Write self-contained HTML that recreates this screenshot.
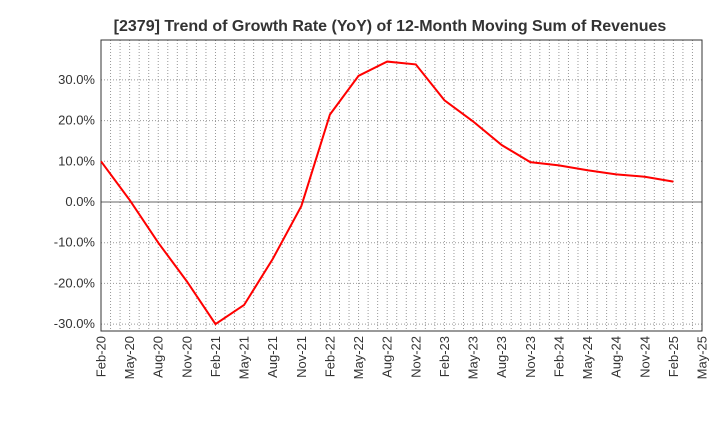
<!DOCTYPE html>
<html><head><meta charset="utf-8"><style>
body{margin:0;background:#fff;}
svg{display:block;font-family:"Liberation Sans",sans-serif;}
</style></head><body>
<svg id="c" width="720" height="440">
<text x="390" y="31" text-anchor="middle" font-size="16" font-weight="bold" fill="#333">[2379]  Trend of Growth Rate (YoY) of 12-Month Moving Sum of Revenues</text>
<g id="grid"></g><g id="axes"></g><g id="series"></g>
</svg>
<script>
const categories=["Feb-20","May-20","Aug-20","Nov-20","Feb-21","May-21","Aug-21","Nov-21","Feb-22","May-22","Aug-22","Nov-22","Feb-23","May-23","Aug-23","Nov-23","Feb-24","May-24","Aug-24","Nov-24","Feb-25","May-25"];
const values=[10,0.5,-10,-19.5,-30,-25.3,-14,-1,21.5,31,34.5,33.8,25,19.8,14,9.8,9,7.8,6.8,6.2,5];
const yTicks=[30,20,10,0,-10,-20,-30];
const L=101,R=702,T=40,B=331;
const NS="http://www.w3.org/2000/svg";
function x(i){return L+(R-L)*i/21;}
function y(v){return 202-v*4.07;}
function mk(p,t,a){const e=document.createElementNS(NS,t);for(const k in a)e.setAttribute(k,a[k]);p.appendChild(e);return e;}
const g=document.getElementById('grid'),ax=document.getElementById('axes'),s=document.getElementById('series');
for(let m=1;m<63;m++){const xx=L+(R-L)*m/63;const ln=mk(g,'line',{x1:xx,x2:xx,y1:T,y2:B,stroke:'#999','stroke-width':1,'stroke-dasharray':'1,2'});

}
yTicks.forEach(v=>{const ln=mk(g,'line',{x1:L,x2:R,y1:y(v),y2:y(v),stroke:v===0?'#666':'#999','stroke-width':1,'stroke-dasharray':v===0?'none':'1,2'});


const t=mk(ax,'text',{x:L-6,y:y(v)+4,'text-anchor':'end','font-size':13,fill:'#333'});t.textContent=v.toFixed(1)+'%';

});
const fr=mk(ax,'rect',{x:L,y:T,width:R-L,height:B-T,fill:'none',stroke:'#333','stroke-width':1});


categories.forEach((c,i)=>{const t=mk(ax,'text',{transform:`translate(${x(i)+4.5},336) rotate(-90)`,'text-anchor':'end','font-size':13,fill:'#333'});t.textContent=c;

});
const pts=values.map((v,i)=>x(i)+','+y(v)).join(' ');
const pl=mk(s,'polyline',{points:pts,fill:'none',stroke:'#f00','stroke-width':2});


</script>
</body></html>
